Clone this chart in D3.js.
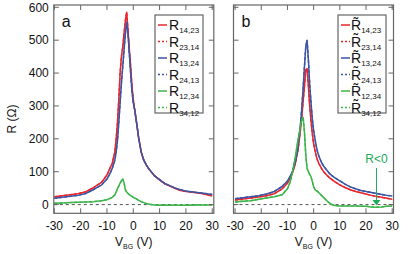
<!DOCTYPE html>
<html>
<head>
<meta charset="utf-8">
<script src="https://cdn.jsdelivr.net/npm/d3@7"></script>
<style>
  body { margin: 0; background: #ffffff; }
  svg { display: block; font-family: "Liberation Sans", Arial, sans-serif; }
</style>
</head>
<body>
<script>
// gate voltage grid shared by all traces (V)
var vbg = [-30, -27, -24, -21, -18, -15, -12, -10, -9, -8, -7, -6.5, -6, -5.5, -5, -4.5, -4, -3.5, -3, -2.5,
           -2, -1.5, -1, -0.5, 0, 0.5, 1, 1.5, 2, 3, 4, 5, 6, 7, 8, 10, 12, 14, 16, 18, 20, 22, 24, 26, 28, 30];

// panel a, R (Ohm)
var a_r1423 = [24, 27, 30, 33, 39, 52, 68, 90, 108, 125, 160, 200, 250, 320, 400, 450, 480, 520, 560, 585,
               530, 470, 420, 360, 320, 290, 265, 235, 205, 160, 135, 120, 107, 98, 88, 75, 63, 56, 49, 43, 40, 38, 36, 34, 30, 26];
var a_r1324 = [19, 22, 25, 28, 34, 46, 60, 78, 92, 110, 135, 160, 195, 250, 310, 370, 420, 470, 520, 555,
               520, 460, 400, 345, 310, 290, 262, 235, 205, 160, 135, 120, 108, 98, 88, 76, 64, 57, 50, 45, 41, 39, 37, 35, 33, 31];
var a_r1234 = [4, 5, 6, 7, 8, 9, 12, 15, 18, 22, 30, 38, 48, 57, 65, 72, 78, 66, 45, 38,
               34, 30, 27, 25, 22, 20, 18, 16, 13, 9, 6, 3, 1, 0, -1, -2, -2, -2, -2, -2, -2, -2, -1, -1, -1, -1];

// panel b, R tilde (Ohm)
var b_r1423 = [14, 17, 20, 23, 27, 33, 48, 65, 80, 98, 125, 145, 165, 195, 230, 270, 315, 360, 410, 414,
               360, 300, 255, 215, 185, 165, 148, 135, 125, 110, 98, 90, 82, 76, 70, 60, 52, 45, 40, 36, 32, 28, 25, 22, 19, 16];
var b_r1324 = [18, 21, 24, 27, 32, 40, 55, 72, 85, 102, 130, 150, 172, 210, 245, 295, 355, 420, 480, 500,
               440, 365, 310, 260, 225, 200, 178, 160, 148, 128, 115, 105, 95, 88, 82, 72, 62, 54, 48, 43, 40, 37, 34, 31, 28, 26];
var b_r1234 = [8, 10, 12, 16, 20, 24, 30, 48, 68, 102, 145, 170, 195, 215, 240, 260, 265, 220, 150, 110,
               100, 92, 85, 70, 55, 46, 42, 40, 36, 28, 20, 12, 5, 0, -3, -4, -4, -4, -4, -5, -5, -7, -8, -7, -5, -4];

var yTicks = [0, 100, 200, 300, 400, 500, 600];
var xTicks = [-30, -20, -10, 0, 10, 20, 30];

var legendSubs = ["14,23", "23,14", "13,24", "24,13", "12,34", "34,12"];
var legendColors = ["#e8262d", "#e8262d", "#3b55a3", "#3b55a3", "#3db54a", "#3db54a"];
var legendDashed = [false, true, false, true, false, true];

var width = 415, height = 254;
var frameColor = "#666";

var svg = d3.select("body").append("svg")
  .attr("width", width).attr("height", height);

function drawPanel(opts)
{
  var x = d3.scaleLinear().domain(opts.xDomain).range([opts.left, opts.right]);
  var y = d3.scaleLinear().domain([-26.5, 607]).range([213.3, 5]);

  var g = svg.append("g");

  // zero line
  g.append("line")
    .attr("x1", opts.left).attr("x2", opts.right)
    .attr("y1", y(0)).attr("y2", y(0))
    .attr("stroke", "#555").attr("stroke-width", 1)
    .attr("stroke-dasharray", "3,3");

  var line = d3.line()
    .x(function(d) { return x(d[0]); })
    .y(function(d) { return y(d[1]); });

  // reciprocal traces (dashed) first, then solid on top
  opts.series.forEach(function(s, i)
  {
    var pts = vbg.map(function(v, k) { return [v, s[k]]; });
    g.append("path").datum(pts)
      .attr("d", line).attr("fill", "none")
      .attr("stroke", legendColors[i * 2]).attr("stroke-width", 1.4)
      .attr("stroke-dasharray", "3,2");
  });
  opts.series.forEach(function(s, i)
  {
    var pts = vbg.map(function(v, k) { return [v, s[k]]; });
    g.append("path").datum(pts)
      .attr("d", line).attr("fill", "none")
      .attr("stroke", legendColors[i * 2]).attr("stroke-width", 1.5)
      .attr("stroke-linejoin", "round");
  });

  // frame with inward ticks
  g.append("rect")
    .attr("x", opts.left).attr("y", 5)
    .attr("width", opts.right - opts.left).attr("height", 213.3 - 5)
    .attr("fill", "none").attr("stroke", frameColor).attr("stroke-width", 1.2);

  var tl = 5;
  g.selectAll("line.xt").data(xTicks).enter().append("line")
    .attr("x1", function(d) { return x(d); }).attr("x2", function(d) { return x(d); })
    .attr("y1", 213.3).attr("y2", 213.3 - tl)
    .attr("stroke", frameColor).attr("stroke-width", 1);
  g.selectAll("line.xt2").data(xTicks).enter().append("line")
    .attr("x1", function(d) { return x(d); }).attr("x2", function(d) { return x(d); })
    .attr("y1", 5).attr("y2", 5 + tl)
    .attr("stroke", frameColor).attr("stroke-width", 1);
  g.selectAll("line.yt").data(yTicks).enter().append("line")
    .attr("x1", opts.left).attr("x2", opts.left + tl)
    .attr("y1", function(d) { return y(d); }).attr("y2", function(d) { return y(d); })
    .attr("stroke", frameColor).attr("stroke-width", 1);
  g.selectAll("line.yt2").data(yTicks).enter().append("line")
    .attr("x1", opts.right).attr("x2", opts.right - tl)
    .attr("y1", function(d) { return y(d); }).attr("y2", function(d) { return y(d); })
    .attr("stroke", frameColor).attr("stroke-width", 1);

  // x tick labels
  g.selectAll("text.xl").data(xTicks).enter().append("text")
    .attr("x", function(d) { return x(d); }).attr("y", 229.5)
    .attr("text-anchor", "middle").attr("font-size", 12).attr("fill", "#111")
    .text(function(d) { return d; });

  if (opts.yLabels)
  {
    g.selectAll("text.yl").data(yTicks).enter().append("text")
      .attr("x", opts.left - 5).attr("y", function(d) { return y(d) + 4.2; })
      .attr("text-anchor", "end").attr("font-size", 12).attr("fill", "#111")
      .text(function(d) { return d; });
  }

  // x axis title
  var xt = g.append("text")
    .attr("x", (opts.left + opts.right) / 2).attr("y", 246)
    .attr("text-anchor", "middle").attr("font-size", 12).attr("fill", "#111");
  xt.append("tspan").text("V");
  xt.append("tspan").attr("font-size", 7).attr("dy", 3).text("BG");
  xt.append("tspan").attr("dy", -3).text(" (V)");

  // panel letter
  g.append("text")
    .attr("x", opts.left + 8).attr("y", 27)
    .attr("font-size", 16).attr("fill", "#111")
    .text(opts.letter);

  // legend
  var lg = g.append("g");
  lg.append("rect")
    .attr("x", opts.legX).attr("y", 15)
    .attr("width", opts.legW).attr("height", 98)
    .attr("fill", "#fff").attr("stroke", frameColor).attr("stroke-width", 1.2);

  legendSubs.forEach(function(sub, i)
  {
    var ly = 25 + i * 16.5;
    lg.append("line")
      .attr("x1", opts.legX + 3).attr("x2", opts.legX + 12)
      .attr("y1", ly).attr("y2", ly)
      .attr("stroke", legendColors[i]).attr("stroke-width", 1.5)
      .attr("stroke-dasharray", legendDashed[i] ? "2,2" : null);
    var t = lg.append("text")
      .attr("x", opts.legX + opts.textOff).attr("y", ly + 5)
      .attr("font-size", 14).attr("fill", "#111");
    // panel b uses R with a tilde (combining U+0303)
    t.append("tspan").text(opts.tilde ? "R\u0303" : "R");
    t.append("tspan").attr("font-size", 8).attr("dy", 3).text(sub);
  });

  return { x: x, y: y, g: g };
}

drawPanel({ left: 53.8, right: 213.8, xDomain: [-30.2, 30.6], letter: "a", yLabels: true,
            series: [a_r1423, a_r1324, a_r1234], legX: 155, legW: 48, textOff: 14, tilde: false });

var pb = drawPanel({ left: 233.5, right: 393.5, xDomain: [-30.6, 30.5], letter: "b", yLabels: false,
            series: [b_r1423, b_r1324, b_r1234], legX: 338, legW: 48, textOff: 13, tilde: true });

// y axis title
svg.append("text")
  .attr("transform", "translate(16,119) rotate(-90)")
  .attr("text-anchor", "middle").attr("font-size", 12).attr("fill", "#111")
  .text("R (\u03A9)");

// negative resistance annotation
var arrowX = pb.x(24);
pb.g.append("text")
  .attr("x", arrowX).attr("y", 163)
  .attr("text-anchor", "middle").attr("font-size", 12).attr("fill", "#22a85a")
  .text("R<0");
pb.g.append("line")
  .attr("x1", arrowX).attr("x2", arrowX)
  .attr("y1", 168).attr("y2", pb.y(14))
  .attr("stroke", "#22a85a").attr("stroke-width", 1);
pb.g.append("path")
  .attr("d", "M" + (arrowX - 4) + "," + pb.y(14) + "L" + (arrowX + 4) + "," + pb.y(14) + "L" + arrowX + "," + pb.y(-2) + "Z")
  .attr("fill", "#22a85a");
</script>
</body>
</html>
